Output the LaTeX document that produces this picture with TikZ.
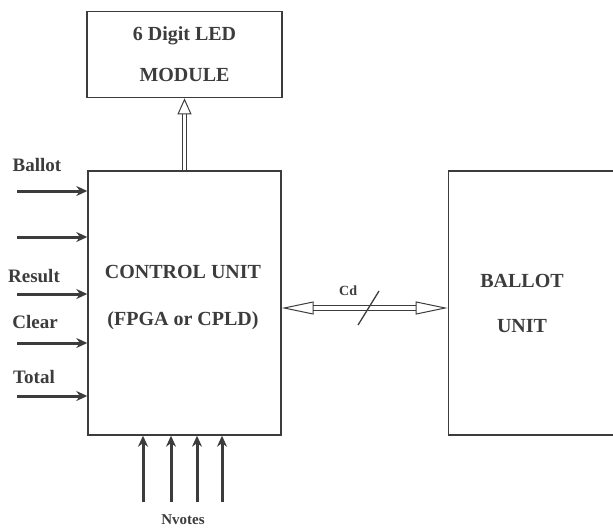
\documentclass[tikz,border=0pt]{standalone}
\usepackage{fontspec}
\setmainfont{Liberation Serif}
\usepackage{tikz}
\usetikzlibrary{arrows.meta,positioning,calc}
\definecolor{inkgray}{RGB}{60,60,60}

\begin{document}
\begin{tikzpicture}[
    x=1pt, y=-1pt,
    font=\bfseries,
    block/.style={rectangle, draw=inkgray, line width=1.4pt, align=center, inner sep=0pt},
    lbl/.style={font=\fontsize{19}{22}\selectfont\bfseries, text=inkgray},
    inarrow/.style={draw=inkgray, line width=3pt, -{Stealth[length=11pt, width=10pt]}},
    hollow/.style={draw=inkgray, double=white, double distance=3.5pt, line width=1pt},
]
    \useasboundingbox (0,0) rectangle (613,530);
    % Control unit
    \node[block, minimum width=193pt, minimum height=264pt] (ctrl) at (184.5,303) {};
    \node[font=\fontsize{20}{47}\selectfont\bfseries, text=inkgray, align=center] (ctrltext) at (183,298) {CONTROL UNIT\\(FPGA or CPLD)};
    % LED module
    \node[block, minimum width=195pt, minimum height=86pt, above=72pt of ctrl,
          font=\fontsize{20}{41}\selectfont\bfseries, text=inkgray] (led) {6 Digit LED\\MODULE};
    % Ballot unit
    \node[block, minimum width=180pt, minimum height=264pt, right=166pt of ctrl] (ballot) {};
    \node[font=\fontsize{20}{45}\selectfont\bfseries, text=inkgray, align=center] (ballottext) at (522,303) {BALLOT\\UNIT};

    % Control to LED
    \draw[hollow, -{Triangle[open, length=16pt, width=14pt]}] (ctrl.north) -- (led.south);
    % Control to ballot
    \draw[hollow, {Triangle[open, length=32pt, width=13pt]}-{Triangle[open, length=32pt, width=13pt]}]
        ([yshift=-5pt]ctrl.east) -- coordinate[pos=0.52] (cdmid) node[pos=0.4, above=9pt, lbl, font=\fontsize{14}{16}\selectfont\bfseries] (cd) {Cd} ([yshift=-5pt]ballot.west);
    \draw[draw=inkgray, line width=1.3pt] ([shift={(-10pt,-17pt)}]cdmid) -- ([shift={(11pt,17pt)}]cdmid);

    % Inputs on the left
    \foreach \y/\n in {191/a, 237/b, 294/c, 343/d, 396/e} {
        \coordinate (in\n) at (17,\y);
        \draw[inarrow] (in\n) -- (in\n -| ctrl.west);
    }
    \node[lbl] (ballotlbl) at (37,165) {Ballot};
    \node[lbl] (resultlbl) at (34,276) {Result};
    \node[lbl] (clearlbl) at (35,322) {Clear};
    \node[lbl] (totallbl) at (34,377) {Total};

    % Vote inputs at the bottom
    \foreach \x/\n in {143/a, 171/b, 197/c, 222/d} {
        \coordinate (vt\n) at (\x,502);
        \draw[inarrow] (vt\n) -- (vt\n |- ctrl.south);
    }
    \node[lbl, font=\fontsize{15}{17}\selectfont\bfseries] (nvotes) at (183,520) {Nvotes};
\end{tikzpicture}
\end{document}
